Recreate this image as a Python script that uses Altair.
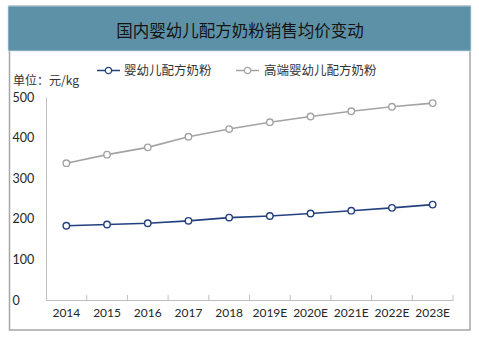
import altair as alt
import pandas as pd

categories = ["2014", "2015", "2016", "2017", "2018", "2019E", "2020E", "2021E", "2022E", "2023E"]
series_names = ["婴幼儿配方奶粉", "高端婴幼儿配方奶粉"]
infant = [183, 186, 189, 195, 203, 207, 213, 220, 227, 235]
premium = [337, 358, 376, 402, 421, 438, 452, 465, 476, 485]
title_text = "国内婴幼儿配方奶粉销售均价变动"
unit_text = "单位：元/kg"

rows = []
for c, v in zip(categories, infant):
    rows.append({"year": c, "series": series_names[0], "value": v})
for c, v in zip(categories, premium):
    rows.append({"year": c, "series": series_names[1], "value": v})
df = pd.DataFrame(rows)

BLUE = "#23407F"
GRAY = "#A3A3A3"
W, H = 407, 203
LEFT, TOP = 46, 97

xscale = alt.Scale(type="band", domain=categories, paddingInner=0, paddingOuter=0)
yscale = alt.Scale(domain=[0, 500])
cscale = alt.Scale(domain=series_names, range=[BLUE, GRAY])

one = alt.Data(values=[{}])

frame = alt.Chart(one).mark_rect(fillOpacity=0, stroke="#A6A6A6", strokeWidth=1.5).encode(
    x=alt.value(9.5 - LEFT), x2=alt.value(470 - LEFT),
    y=alt.value(6 - TOP), y2=alt.value(330 - TOP))

band = alt.Chart(one).mark_rect(fill="#5D91A7", stroke="#C9DDE4", strokeWidth=0.8).encode(
    x=alt.value(8 - LEFT), x2=alt.value(471 - LEFT),
    y=alt.value(6 - TOP), y2=alt.value(51 - TOP))

title = alt.Chart(one).mark_text(font="Noto Sans CJK SC", fontSize=16.5, color="#141414",
                                 align="center", baseline="middle").encode(
    x=alt.value(240 - LEFT), y=alt.value(32 - TOP), text=alt.value(title_text))

unit = alt.Chart(one).mark_text(font="Noto Sans CJK SC", fontSize=12, color="#333333",
                                align="left", baseline="middle").encode(
    x=alt.value(13 - LEFT), y=alt.value(81 - TOP), text=alt.value(unit_text))

leg_y = 70.5 - TOP
leg_items = []
for (x0, x1, cx, tx, col, name) in [
    (97, 120, 108.5, 124, BLUE, series_names[0]),
    (236, 259, 247.5, 264, GRAY, series_names[1]),
]:
    leg_items.append(alt.Chart(one).mark_rule(color=col, strokeWidth=1.5).encode(
        x=alt.value(x0 - LEFT), x2=alt.value(x1 - LEFT), y=alt.value(leg_y)))
    leg_items.append(alt.Chart(one).mark_point(shape="circle", size=40, filled=True, fill="white",
                                               stroke=col, strokeWidth=1.3, opacity=1).encode(
        x=alt.value(cx - LEFT), y=alt.value(leg_y)))
    leg_items.append(alt.Chart(one).mark_text(font="Noto Sans CJK SC", fontSize=12.5, color="#333333",
                                              align="left", baseline="middle").encode(
        x=alt.value(tx - LEFT), y=alt.value(leg_y), text=alt.value(name)))

base = alt.Chart(df)

lines = base.mark_line(strokeWidth=1.6).encode(
    x=alt.X("year:N", scale=xscale, bandPosition=0.5, sort=categories,
            axis=alt.Axis(title=None, ticks=False, labelAngle=0, labelFont="Lato",
                          labelFontSize=12, labelColor="#262626", labelPadding=12,
                          bandPosition=0.5, labelAlign="center",
                          domainColor="#BFBFBF", domainWidth=1)),
    y=alt.Y("value:Q", scale=yscale,
            axis=alt.Axis(title=None, values=[0, 100, 200, 300, 400, 500], ticks=False,
                          grid=False, labelAlign="left", labelPadding=34, labelFont="Lato",
                          labelFontSize=12.5, labelColor="#262626", domainColor="#BFBFBF",
                          domainWidth=1)),
    color=alt.Color("series:N", scale=cscale, legend=None),
    detail="series:N")

points = base.mark_point(shape="circle", size=42, filled=True, fill="white",
                         strokeWidth=1.4, opacity=1).encode(
    x=alt.X("year:N", scale=xscale, bandPosition=0.5, sort=categories),
    y=alt.Y("value:Q", scale=yscale),
    stroke=alt.Stroke("series:N", scale=cscale, legend=None))

tick_df = pd.DataFrame({"year": categories[1:]})
ticks = alt.Chart(tick_df).mark_rule(color="#BFBFBF", strokeWidth=1).encode(
    x=alt.X("year:N", scale=xscale, bandPosition=0),
    y=alt.value(H), y2=alt.value(H - 5))
end_tick = alt.Chart(pd.DataFrame({"year": [categories[-1]]})).mark_rule(
    color="#BFBFBF", strokeWidth=1).encode(
    x=alt.X("year:N", scale=xscale, bandPosition=1),
    y=alt.value(H), y2=alt.value(H - 5))

chart = alt.layer(frame, band, title, unit, *leg_items, ticks, end_tick, lines, points).properties(
    width=W, height=H,
    padding={"left": LEFT, "top": TOP, "right": 479 - LEFT - W, "bottom": 337 - TOP - H},
    autosize=alt.AutoSizeParams(type="none"),
    background="white",
).configure_view(stroke=None)

chart.save("out.html", embed_options={"renderer": "svg", "actions": False})
